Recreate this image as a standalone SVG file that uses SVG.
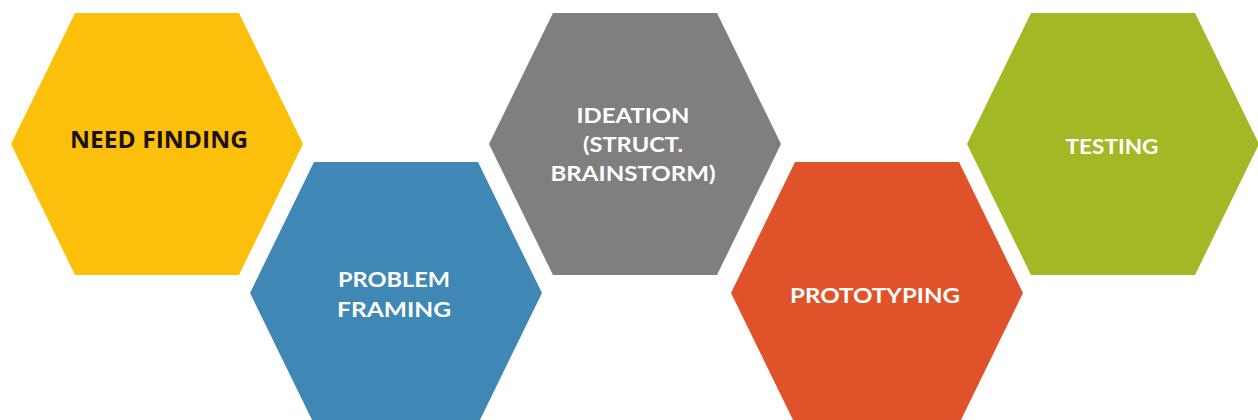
<svg xmlns="http://www.w3.org/2000/svg" xmlns:xlink="http://www.w3.org/1999/xlink" width="1258" height="420" viewBox="0 0 1258 420">
  <style>
    .lbl { font-family: "Lato", "Liberation Sans", sans-serif; font-weight: 700; font-size: 21px; fill: #ffffff; text-anchor: middle; }
    .dark { font-family: "Open Sans", "Liberation Sans", sans-serif; font-weight: 700; font-size: 23px; fill: #1a1208; text-anchor: middle; }
  </style>
  <defs>
    <!-- flat-topped hexagon centred on the origin -->
    <polygon id="hex" points="-146,0 -82,-131 82,-131 146,0 82,131 -82,131"/>
  </defs>
  <rect width="1258" height="420" fill="#ffffff"/>

  <g id="need-finding">
    <use xlink:href="#hex" href="#hex" transform="translate(157,144)" fill="#fbbf0c"/>
    <text class="dark" x="159" y="148" textLength="178" lengthAdjust="spacingAndGlyphs">NEED FINDING</text>
  </g>

  <g id="problem-framing">
    <use xlink:href="#hex" href="#hex" transform="translate(396,293)" fill="#3f87b5"/>
    <text class="lbl" x="394" y="287" textLength="112" lengthAdjust="spacingAndGlyphs">PROBLEM</text>
    <text class="lbl" x="394" y="317" textLength="114" lengthAdjust="spacingAndGlyphs">FRAMING</text>
  </g>

  <g id="ideation">
    <use xlink:href="#hex" href="#hex" transform="translate(635,144)" fill="#7f7f7f"/>
    <text class="lbl" x="633" y="123" textLength="113" lengthAdjust="spacingAndGlyphs">IDEATION</text>
    <text class="lbl" x="633" y="152" textLength="100" lengthAdjust="spacingAndGlyphs">(STRUCT.</text>
    <text class="lbl" x="633" y="181" textLength="165" lengthAdjust="spacingAndGlyphs">BRAINSTORM)</text>
  </g>

  <g id="prototyping">
    <use xlink:href="#hex" href="#hex" transform="translate(877,293)" fill="#e0532a"/>
    <text class="lbl" x="875" y="303" textLength="170" lengthAdjust="spacingAndGlyphs">PROTOTYPING</text>
  </g>

  <g id="testing">
    <use xlink:href="#hex" href="#hex" transform="translate(1113,144)" fill="#a4b826"/>
    <text class="lbl" x="1112" y="154" textLength="93" lengthAdjust="spacingAndGlyphs">TESTING</text>
  </g>

  <g id="connectors"/>
</svg>
